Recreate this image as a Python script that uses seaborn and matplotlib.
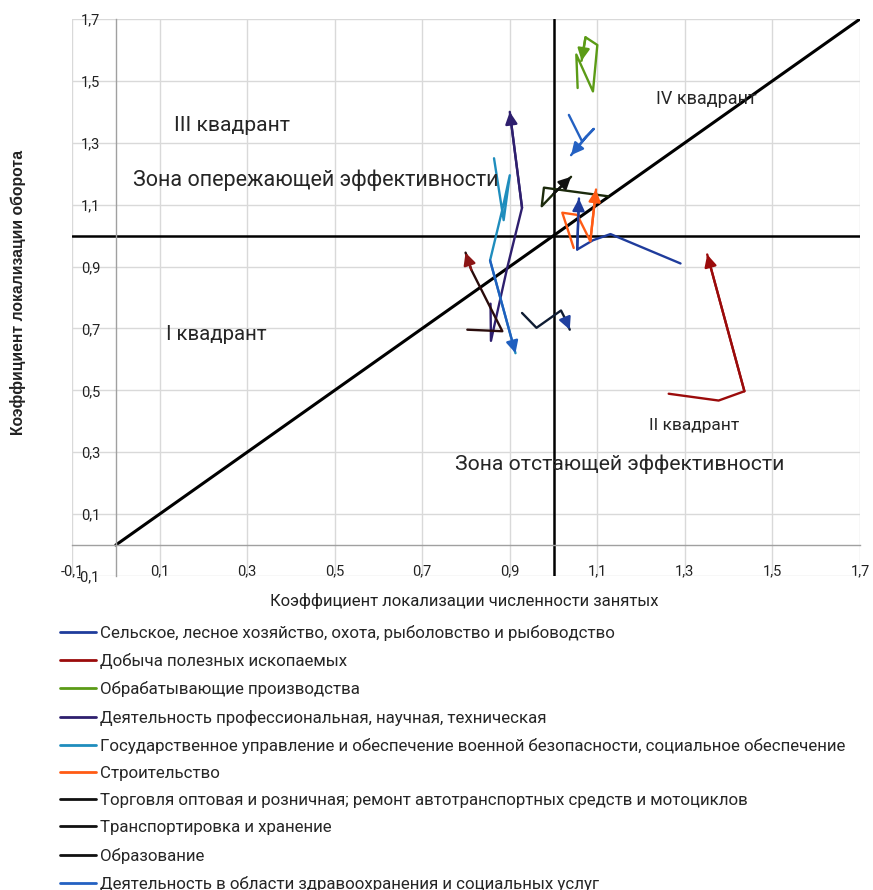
import matplotlib
matplotlib.use('Agg')
import matplotlib.pyplot as plt
import seaborn as sns
import pandas as pd
from matplotlib.lines import Line2D

# Data
series_names = [
    'Сельское, лесное хозяйство, охота, рыболовство и рыбоводство',
    'Добыча полезных ископаемых',
    'Обрабатывающие производства',
    'Деятельность профессиональная, научная, техническая',
    'Государственное управление и обеспечение военной безопасности, социальное обеспечение',
    'Строительство',
    'Торговля оптовая и розничная; ремонт автотранспортных средств и мотоциклов',
    'Транспортировка и хранение',
    'Образование',
    'Деятельность в области здравоохранения и социальных услуг',
]

agri_x = [1.29, 1.13, 1.09, 1.054, 1.058]
agri_y = [0.91, 1.005, 0.985, 0.955, 1.12]

mining_x = [1.263, 1.377, 1.436, 1.351]
mining_y = [0.489, 0.467, 0.497, 0.939]

manuf_x = [1.055, 1.052, 1.090, 1.100, 1.073, 1.064]
manuf_y = [1.477, 1.585, 1.466, 1.616, 1.641, 1.565]

prof_x = [0.856, 0.857, 0.894, 0.928, 0.900]
prof_y = [0.78, 0.66, 0.895, 1.09, 1.40]

gov_x = [0.864, 0.886, 0.900, 0.884, 0.855, 0.913]
gov_y = [1.25, 1.05, 1.195, 1.09, 0.92, 0.62]

constr_x = [1.046, 1.020, 1.054, 1.084, 1.097]
constr_y = [0.96, 1.074, 1.067, 0.982, 1.149]

trade_x = [1.125, 0.978, 0.973, 1.000, 1.040]
trade_y = [1.127, 1.155, 1.095, 1.135, 1.19]

transp_x = [0.803, 0.883, 0.812, 0.799]
transp_y = [0.696, 0.691, 0.890, 0.945]

educ_x = [0.928, 0.961, 1.017, 1.027, 1.037]
educ_y = [0.750, 0.702, 0.758, 0.730, 0.696]

health_x = [1.035, 1.065, 1.092, 1.075, 1.040]
health_y = [1.39, 1.305, 1.345, 1.32, 1.26]

all_x = [agri_x, mining_x, manuf_x, prof_x, gov_x, constr_x, trade_x, transp_x, educ_x, health_x]
all_y = [agri_y, mining_y, manuf_y, prof_y, gov_y, constr_y, trade_y, transp_y, educ_y, health_y]

line_colors = ['#1f3c9c', '#9b0b0b', '#5b9b16', '#2e1f6e', '#1f8dbd',
               '#ff5b14', '#1c2a0c', '#2a0c0c', '#0f1c33', '#2461c2']
head_colors = ['#1f3c9c', '#9b0b0b', '#5b9b16', '#2e1f6e', '#1f5fbf',
               '#ff5b14', '#111111', '#8b1515', '#1f3f9f', '#2461c2']
legend_colors = ['#1f3c9c', '#9b0b0b', '#5b9b16', '#2e1f6e', '#1f8dbd',
                 '#ff5b14', '#111111', '#111111', '#111111', '#2461c2']

ticks = [-0.1, 0.1, 0.3, 0.5, 0.7, 0.9, 1.1, 1.3, 1.5, 1.7]
tick_labels = ['-0,1', '0,1', '0,3', '0,5', '0,7', '0,9', '1,1', '1,3', '1,5', '1,7']

rows = []
for name, xs, ys in zip(series_names, all_x, all_y):
    for i, (x, y) in enumerate(zip(xs, ys)):
        rows.append({'series': name, 'step': i, 'x': x, 'y': y})
df = pd.DataFrame(rows)

sns.set_theme(style='white')
plt.rcParams['font.family'] = ['Roboto', 'DejaVu Sans']

fig = plt.figure(figsize=(8.73, 8.90), dpi=100)
ax = fig.add_axes([72 / 873, 1 - 576 / 890, 788 / 873, 557 / 890])

ax.set_xlim(-0.1, 1.7)
ax.set_ylim(-0.1, 1.7)
ax.set_xticks(ticks)
ax.set_yticks(ticks)
ax.set_xticklabels(tick_labels)
ax.set_yticklabels(tick_labels)
ax.grid(True, color='#d9d9d9', linewidth=1)
ax.set_axisbelow(True)

for s in ['top', 'right']:
    ax.spines[s].set_visible(False)
ax.spines['left'].set_position(('data', 0))
ax.spines['bottom'].set_position(('data', 0))
for s in ['left', 'bottom']:
    ax.spines[s].set_color('#a0a0a0')
    ax.spines[s].set_linewidth(1)
ax.tick_params(axis='x', length=0, pad=14, labelsize=10.5, colors='#222222')
ax.tick_params(axis='y', length=0, pad=11, labelsize=10.5, colors='#222222')

# quadrant lines and diagonal
ax.axhline(1.0, color='black', lw=1.8, zorder=2)
ax.axvline(1.0, color='black', lw=1.8, zorder=2)
ax.plot([0, 1.7], [0, 1.7], color='black', lw=2.2, zorder=2)

# trajectories
sns.lineplot(data=df, x='x', y='y', hue='series', hue_order=series_names,
             palette=line_colors, sort=False, estimator=None, units='series',
             lw=1.7, legend=False, ax=ax, zorder=3)
for xs, ys, hc in zip(all_x, all_y, head_colors):
    ax.annotate('', xy=(xs[-1], ys[-1]), xytext=(xs[-2], ys[-2]),
                arrowprops=dict(arrowstyle='-|>,head_length=0.6,head_width=0.3',
                                color=hc, lw=1.7, shrinkA=0, shrinkB=0,
                                mutation_scale=12), zorder=4)
ax.set_xlabel('')
ax.set_ylabel('')

# quadrant captions
ax.text(0.132, 1.356, 'III квадрант', fontsize=15.2, va='center', ha='left')
ax.text(0.039, 1.179, 'Зона опережающей эффективности', fontsize=15.5, va='center', ha='left')
ax.text(1.235, 1.44, 'IV квадрант', fontsize=13, va='center', ha='left')
ax.text(0.114, 0.681, 'I квадрант', fontsize=14.7, va='center', ha='left')
ax.text(1.217, 0.387, 'II квадрант', fontsize=12.5, va='center', ha='left')
ax.text(0.776, 0.262, 'Зона отстающей эффективности', fontsize=15.2, va='center', ha='left')

# axis titles
fig.text(18 / 873, 1 - 292 / 890, 'Коэффициент локализации оборота', rotation=90,
         ha='center', va='center', fontsize=11.3, fontweight='bold',
         family=['Liberation Sans', 'DejaVu Sans'], color='#222222')
fig.text(464 / 873, 1 - 601 / 890, 'Коэффициент локализации численности занятых',
         ha='center', va='center', fontsize=12, color='#222222')

handles = [Line2D([0], [0], color=c, lw=2) for c in legend_colors]
fig.legend(handles, series_names, loc='upper left', bbox_to_anchor=(60 / 873, 1 - 625 / 890),
           frameon=False, fontsize=12.2, handlelength=2.1, handletextpad=0.25,
           labelspacing=0.72, borderpad=0, borderaxespad=0)

plt.savefig('out.png', dpi=100)
